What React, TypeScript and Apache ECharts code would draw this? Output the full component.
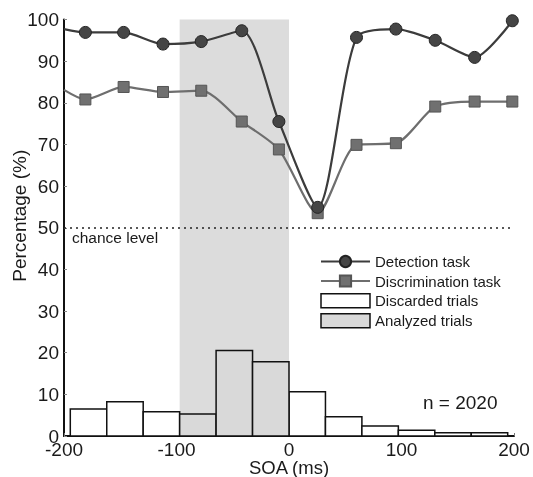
import React, { useEffect, useRef } from "react";
import * as echarts from "echarts";

// SOA (ms) of the plotted points (first point is the line start at the axis, no marker)
const soaPoints = [-200, -181, -147, -112, -78, -42, -9, 25.5, 60, 95, 130, 165, 198.5];
const detection = [97.7, 96.9, 96.9, 94.1, 94.7, 97.3, 75.5, 54.9, 95.7, 97.7, 95.0, 90.9, 99.7];
const discrimination = [83.1, 80.8, 83.8, 82.6, 82.9, 75.5, 68.8, 53.5, 69.9, 70.3, 79.1, 80.3, 80.3];

// Histogram of trials
const binEdges = [-194.4, -162, -129.6, -97.2, -64.8, -32.4, 0, 32.4, 64.8, 97.2, 129.6, 162, 194.4];
const binPercent = [6.5, 8.2, 5.8, 5.3, 20.5, 17.8, 10.6, 4.6, 2.4, 1.4, 0.8, 0.8];
const analyzedRange = [-97.2, 0];
const chanceLevel = 50;
const xTicks = { min: -200, max: 200, interval: 100 };
const yTicks = { min: 0, max: 100, interval: 10 };
const nTrials = 2020;

const FONT = "Liberation Sans, Arial, Helvetica, sans-serif";
const TXT = "#1a1a1a";

export default function App() {
  const ref = useRef<HTMLDivElement>(null);
  useEffect(() => {
    if (!ref.current) return;
    const chart = echarts.init(ref.current, undefined, { renderer: "svg" });

    const discarded: number[][] = [];
    const analyzed: number[][] = [];
    for (let i = 0; i < binPercent.length; i++) {
      const row = [binEdges[i], binEdges[i + 1], binPercent[i]];
      if (binEdges[i] >= analyzedRange[0] - 0.01 && binEdges[i + 1] <= analyzedRange[1] + 0.01) analyzed.push(row);
      else discarded.push(row);
    }

    const histRender = (fill: string) => (params: any, api: any) => {
      const p0 = api.coord([api.value(0), api.value(2)]);
      const p1 = api.coord([api.value(1), 0]);
      return {
        type: "rect",
        shape: { x: p0[0], y: p0[1], width: p1[0] - p0[0], height: p1[1] - p0[1] },
        style: { fill, stroke: "#111", lineWidth: 1.5 },
      };
    };

    const lineData = (ys: number[]) =>
      soaPoints.map((x, i) => (i === 0 ? { value: [x, ys[i]], symbol: "none" } : { value: [x, ys[i]] }));

    chart.setOption({
      animation: false,
      textStyle: { fontFamily: FONT },
      grid: { left: 64, right: 19, top: 19.5, bottom: 41, containLabel: false, outerBoundsMode: "none" },
      xAxis: {
        type: "value",
        min: xTicks.min,
        max: xTicks.max,
        interval: xTicks.interval,
        name: "SOA (ms)",
        nameLocation: "middle",
        nameGap: 23,
        nameMoveOverlap: false,
        nameTextStyle: { fontSize: 18.5, color: TXT, fontFamily: FONT, verticalAlign: "top", lineHeight: 17 },
        axisLine: { onZero: false, lineStyle: { color: "#111", width: 2 } },
        axisTick: { show: true, inside: true, length: 3, lineStyle: { color: "#777", width: 1 } },
        axisLabel: { fontSize: 19, color: TXT, margin: 6, fontFamily: FONT, lineHeight: 15 },
        splitLine: { show: false },
      },
      yAxis: {
        type: "value",
        min: yTicks.min,
        max: yTicks.max,
        interval: yTicks.interval,
        name: "Percentage (%)",
        nameLocation: "middle",
        nameGap: 35,
        nameMoveOverlap: false,
        nameRotate: 90,
        nameTextStyle: { fontSize: 19, color: TXT, fontFamily: FONT, padding: [0, 0, 0, 24] },
        axisLine: { show: true, onZero: false, lineStyle: { color: "#111", width: 2 } },
        axisTick: { show: true, inside: true, length: 3, lineStyle: { color: "#888", width: 1 } },
        axisLabel: { fontSize: 19, color: TXT, margin: 5, fontFamily: FONT, lineHeight: 12 },
        splitLine: { show: false },
      },
      legend: {
        orient: "vertical",
        left: 320,
        top: 254,
        padding: 0,
        itemWidth: 49,
        itemHeight: 14,
        itemGap: 4.5,
        textStyle: { fontSize: 15, color: TXT, fontFamily: FONT },
        data: [
          { name: "Detection task" },
          { name: "Discrimination task" },
          { name: "Discarded trials", icon: "rect", itemStyle: { color: "#ffffff", borderColor: "#111", borderWidth: 1.5 } },
          { name: "Analyzed trials", icon: "rect", itemStyle: { color: "#d9d9d9", borderColor: "#111", borderWidth: 1.5 } },
        ],
      },
      graphic: [
        {
          type: "text",
          left: 423,
          top: 393,
          style: { text: `n = ${nTrials}`, fontSize: 19, fill: TXT, fontFamily: FONT },
        },
      ],
      series: [
        {
          name: "shade",
          type: "custom",
          z: 0,
          silent: true,
          data: [[analyzedRange[0], analyzedRange[1], yTicks.max]],
          encode: { x: [0, 1], y: 2 },
          renderItem: (params: any, api: any) => {
            const p0 = api.coord([api.value(0), api.value(2)]);
            const p1 = api.coord([api.value(1), 0]);
            return {
              type: "rect",
              shape: { x: p0[0], y: p0[1], width: p1[0] - p0[0], height: p1[1] - p0[1] },
              style: { fill: "#dcdcdc" },
            };
          },
        },
        {
          name: "Discarded trials",
          type: "custom",
          z: 2,
          itemStyle: { color: "#ffffff", borderColor: "#111", borderWidth: 1.5 },
          data: discarded,
          encode: { x: [0, 1], y: 2 },
          renderItem: histRender("#ffffff"),
        },
        {
          name: "Analyzed trials",
          type: "custom",
          z: 2,
          itemStyle: { color: "#d9d9d9", borderColor: "#111", borderWidth: 1.5 },
          data: analyzed,
          encode: { x: [0, 1], y: 2 },
          renderItem: histRender("#d9d9d9"),
          markLine: {
            silent: true,
            symbol: "none",
            lineStyle: { type: [2, 4], color: "#222", width: 1.6 },
            label: {
              show: true,
              position: "insideStartBottom",
              formatter: "chance level",
              fontSize: 15.5,
              color: TXT,
              fontFamily: FONT,
              distance: [8, 2],
            },
            data: [{ yAxis: chanceLevel }],
          },
        },
        {
          name: "Discrimination task",
          type: "line",
          z: 3,
          smooth: 0.25,
          data: lineData(discrimination),
          symbol: "rect",
          symbolSize: 11,
          lineStyle: { color: "#6e6e6e", width: 2.2 },
          itemStyle: { color: "#707070", borderColor: "#555", borderWidth: 1 },
        },
        {
          name: "Detection task",
          type: "line",
          z: 4,
          smooth: 0.25,
          data: lineData(detection),
          symbol: "circle",
          symbolSize: 12,
          lineStyle: { color: "#3c3c3c", width: 2.2 },
          itemStyle: { color: "#454545", borderColor: "#222", borderWidth: 1 },
        },
      ],
    });
    return () => chart.dispose();
  }, []);
  return <div ref={ref} style={{ position: "fixed", left: 0, top: 0, width: 533, height: 477 }} />;
}
